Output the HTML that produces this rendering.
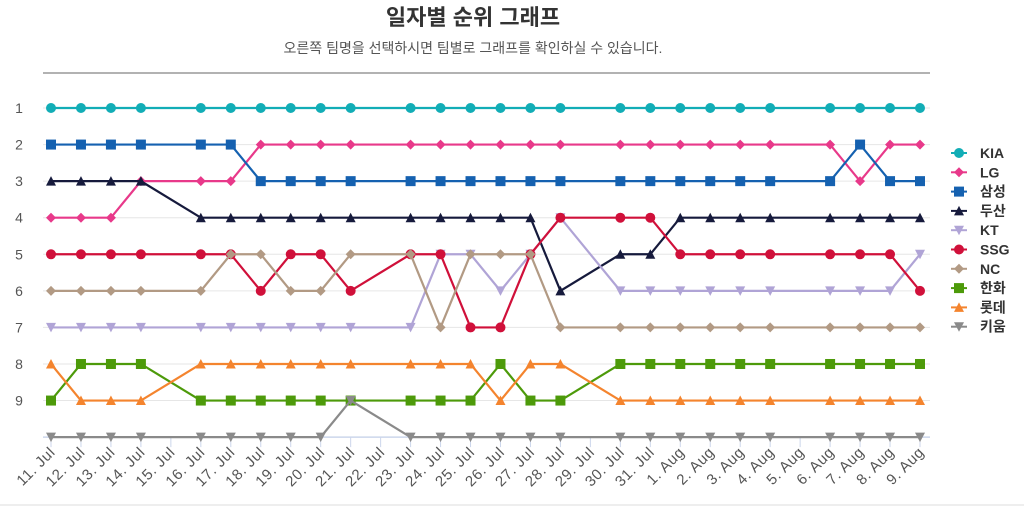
<!DOCTYPE html>
<html><head><meta charset="utf-8">
<style>
html,body{margin:0;padding:0;background:#fff;}
body{width:1024px;height:506px;overflow:hidden;font-family:"Liberation Sans","Noto Sans CJK KR",sans-serif;}
</style></head>
<body>
<svg id="chart" width="1024" height="506" xmlns="http://www.w3.org/2000/svg" font-family="Liberation Sans, Noto Sans CJK KR, sans-serif">
<rect x="0" y="0" width="1024" height="506" fill="#fff"/>
<text x="473" y="25" text-anchor="middle" font-size="22" font-weight="bold" fill="#333">일자별 순위 그래프</text>
<text x="473" y="53" text-anchor="middle" font-size="14" fill="#555">오른쪽 팀명을 선택하시면 팀별로 그래프를 확인하실 수 있습니다.</text>
<line x1="43" y1="73" x2="930" y2="73" stroke="#999" stroke-width="1.5"/>
<line x1="0" y1="505" x2="1024" y2="505" stroke="#ddd" stroke-width="1"/>
<g id="grid"></g><g id="axis"></g><g id="series"></g><g id="legend"></g>
</svg>
<script>
const categories=["11. Jul","12. Jul","13. Jul","14. Jul","15. Jul","16. Jul","17. Jul","18. Jul","19. Jul","20. Jul","21. Jul","22. Jul","23. Jul","24. Jul","25. Jul","26. Jul","27. Jul","28. Jul","29. Jul","30. Jul","31. Jul","1. Aug","2. Aug","3. Aug","4. Aug","5. Aug","6. Aug","7. Aug","8. Aug","9. Aug"];
const yTicks=[1,2,3,4,5,6,7,8,9];
const teams=["KIA","LG","삼성","두산","KT","SSG","NC","한화","롯데","키움"];
const _=null;
const kia=[1,1,1,1,_,1,1,1,1,1,1,_,1,1,1,1,1,1,_,1,1,1,1,1,1,_,1,1,1,1];
const lg=[4,4,4,3,_,3,3,2,2,2,2,_,2,2,2,2,2,2,_,2,2,2,2,2,2,_,2,3,2,2];
const samsung=[2,2,2,2,_,2,2,3,3,3,3,_,3,3,3,3,3,3,_,3,3,3,3,3,3,_,3,2,3,3];
const doosan=[3,3,3,3,_,4,4,4,4,4,4,_,4,4,4,4,4,6,_,5,5,4,4,4,4,_,4,4,4,4];
const kt=[7,7,7,7,_,7,7,7,7,7,7,_,7,5,5,6,5,4,_,6,6,6,6,6,6,_,6,6,6,5];
const ssg=[5,5,5,5,_,5,5,6,5,5,6,_,5,5,7,7,5,4,_,4,4,5,5,5,5,_,5,5,5,6];
const nc=[6,6,6,6,_,6,5,5,6,6,5,_,5,7,5,5,5,7,_,7,7,7,7,7,7,_,7,7,7,7];
const hanwha=[9,8,8,8,_,9,9,9,9,9,9,_,9,9,9,8,9,9,_,8,8,8,8,8,8,_,8,8,8,8];
const lotte=[8,9,9,9,_,8,8,8,8,8,8,_,8,8,8,9,8,8,_,9,9,9,9,9,9,_,9,9,9,9];
const kiwoom=[10,10,10,10,_,10,10,10,10,10,9,_,10,10,10,10,10,10,_,10,10,10,10,10,10,_,10,10,10,10];
const seriesData=[kia,lg,samsung,doosan,kt,ssg,nc,hanwha,lotte,kiwoom];
const colors=["#12adb6","#e8398a","#1561b0","#161a3c","#b0a4d6","#d0103a","#b29a84","#4d9a0a","#f4842e","#8a8a8a"];
const shapes=["circle","diamond","square","triangle","tri-down","circle","diamond","square","triangle","tri-down"];
const ns="http://www.w3.org/2000/svg";
const x0=51,x1=920;
function xs(i){return x0+(x1-x0)*i/(categories.length-1);}
function ys(r){return 108+(r-1)*36.57;}
function mk(tag,attrs,parent){const e=document.createElementNS(ns,tag);for(const k in attrs)e.setAttribute(k,attrs[k]);parent.appendChild(e);return e;}
const grid=document.getElementById('grid'),axis=document.getElementById('axis'),ser=document.getElementById('series'),leg=document.getElementById('legend');
yTicks.forEach(t=>{
 const l=mk('line',{x1:43,x2:930,y1:ys(t),y2:ys(t),stroke:'#e6e6e6'},grid);
 
 
 const tx=mk('text',{x:19,y:ys(t)+5,'font-size':14,fill:'#555','text-anchor':'middle'},grid);
 tx.textContent=t;
 
 
});
const ax=mk('line',{x1:43,x2:930,y1:ys(10),y2:ys(10),stroke:'#ccd6eb','stroke-width':1.5},axis);


categories.forEach((c,i)=>{
 const x=xs(i);
 const tk=mk('line',{x1:x,x2:x,y1:ys(10),y2:ys(10)+10,stroke:'#ccd6eb'},axis);
 
 
 const tyy=ys(10)+16;
 const t=mk('text',{x:x+5,y:tyy,'font-size':15,'letter-spacing':'0.6',fill:'#555','text-anchor':'end',transform:`rotate(-45 ${x+5} ${tyy})`},axis);
 t.textContent=c;
 
 
});
function marker(shape,x,y,color,g){
 let e;
 if(shape==='circle')e=mk('circle',{cx:x,cy:y,r:5,fill:color},g);
 else if(shape==='square')e=mk('rect',{x:x-5,y:y-5,width:10,height:10,fill:color},g);
 else if(shape==='diamond')e=mk('path',{d:`M${x} ${y-5}L${x+5} ${y}L${x} ${y+5}L${x-5} ${y}Z`,fill:color},g);
 else if(shape==='triangle')e=mk('path',{d:`M${x} ${y-5}L${x+5} ${y+4.5}L${x-5} ${y+4.5}Z`,fill:color},g);
 else e=mk('path',{d:`M${x} ${y+5}L${x+5} ${y-4.5}L${x-5} ${y-4.5}Z`,fill:color},g);
 return e;
}
seriesData.forEach((d,s)=>{
 const g=mk('g',{},ser);
 
 
 let p='';
 d.forEach((v,i)=>{if(v==null)return;p+=(p?'L':'M')+xs(i)+' '+ys(v);});
 const pl=mk('path',{d:p,fill:'none',stroke:colors[s],'stroke-width':2.2},g);
 
 
 d.forEach((v,i)=>{if(v==null)return;
  const m=marker(shapes[s],xs(i),ys(v),colors[s],g);
  
  
 });
});
teams.forEach((t,s)=>{
 const y=153+s*19.3;
 const g=mk('g',{},leg);
 
 
 mk('line',{x1:951,x2:967,y1:y,y2:y,stroke:colors[s],'stroke-width':2},g);
 marker(shapes[s],959,y,colors[s],g);
 const tx=mk('text',{x:980,y:y+5,'font-size':14,'font-weight':'bold',fill:'#333'},g);
 tx.textContent=t;
});
</script>
</body></html>
